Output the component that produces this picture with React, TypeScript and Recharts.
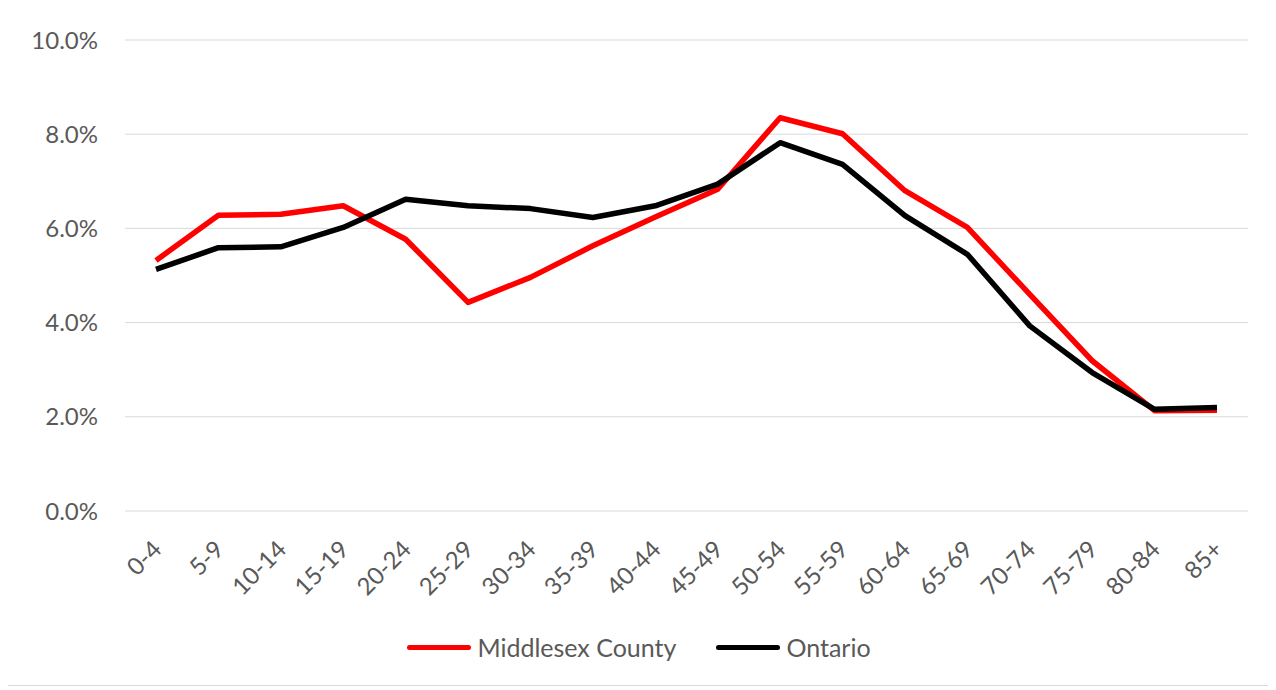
import React from 'react';
import { LineChart, Line, XAxis, YAxis, CartesianGrid, Legend } from 'recharts';

const categories = ['0-4', '5-9', '10-14', '15-19', '20-24', '25-29', '30-34', '35-39', '40-44', '45-49', '50-54', '55-59', '60-64', '65-69', '70-74', '75-79', '80-84', '85+'];
const middlesex = [5.32, 6.28, 6.3, 6.48, 5.77, 4.43, 4.96, 5.63, 6.24, 6.83, 8.35, 8.01, 6.8, 6.02, 4.6, 3.19, 2.13, 2.14];
const ontario = [5.13, 5.59, 5.61, 6.02, 6.62, 6.48, 6.42, 6.23, 6.48, 6.94, 7.82, 7.36, 6.27, 5.45, 3.93, 2.94, 2.16, 2.2];
const yTicks = [0, 2, 4, 6, 8, 10];
const seriesNames = ['Middlesex County', 'Ontario'];

const data = categories.map((c, i) => ({ cat: c, middlesex: middlesex[i], ontario: ontario[i] }));

const FONT = 'Lato, "Open Sans", sans-serif';
const TEXT = '#595959';

const XTick = (props: any) => {
  const { x, y, payload } = props;
  return (
    <text
      transform={`translate(${x + 7},${y + 40}) rotate(-45)`}
      textAnchor="end"
      fill={TEXT}
      fontSize={24}
      fontFamily={FONT}
    >
      {payload.value}
    </text>
  );
};

const LegendContent = () => {
  const items = [
    { name: seriesNames[0], color: '#FF0000' },
    { name: seriesNames[1], color: '#000000' },
  ];
  return (
    <div style={{ height: 30, display: 'flex', justifyContent: 'center', alignItems: 'center', fontFamily: FONT, fontSize: 25, color: TEXT }}>
      {items.map((it, i) => (
        <div key={it.name} style={{ display: 'flex', alignItems: 'center', marginLeft: i === 0 ? 0 : 40 }}>
          <div style={{ width: 64, height: 5, background: it.color, borderRadius: 3, marginRight: 6 }} />
          <span>{it.name}</span>
        </div>
      ))}
    </div>
  );
};

export default function App() {
  return (
    <div style={{ position: 'relative', width: 1262, height: 678, border: '1px solid #d9d9d9', marginLeft: -1, marginTop: -2, background: '#fff' }}>
      <LineChart width={1262} height={678} data={data} margin={{ top: 33, right: 22, bottom: 23, left: 0 }}>
        <CartesianGrid vertical={false} stroke="#d9d9d9" strokeWidth={1} />
        <XAxis
          dataKey="cat"
          axisLine={false}
          tickLine={false}
          tickSize={0}
          tickMargin={0}
          height={121}
          interval={0}
          padding={{ left: 31, right: 31 }}
          tick={<XTick />}
        />
        <YAxis
          domain={[0, 10]}
          ticks={yTicks}
          width={117}
          axisLine={false}
          tickLine={false}
          tickSize={0}
          tickMargin={27}
          tickFormatter={(v: number) => v.toFixed(1) + '%'}
          tick={{ fill: TEXT, fontSize: 24, fontFamily: FONT }}
          interval={0}
        />
        <Legend verticalAlign="bottom" wrapperStyle={{ left: 0, width: 1262 }} content={<LegendContent />} />
        <Line type="linear" dataKey="middlesex" name={seriesNames[0]} stroke="#FF0000" strokeWidth={5.5} dot={false} isAnimationActive={false} strokeLinejoin="round" />
        <Line type="linear" dataKey="ontario" name={seriesNames[1]} stroke="#000000" strokeWidth={5.5} dot={false} isAnimationActive={false} strokeLinejoin="round" />
      </LineChart>
    </div>
  );
}
